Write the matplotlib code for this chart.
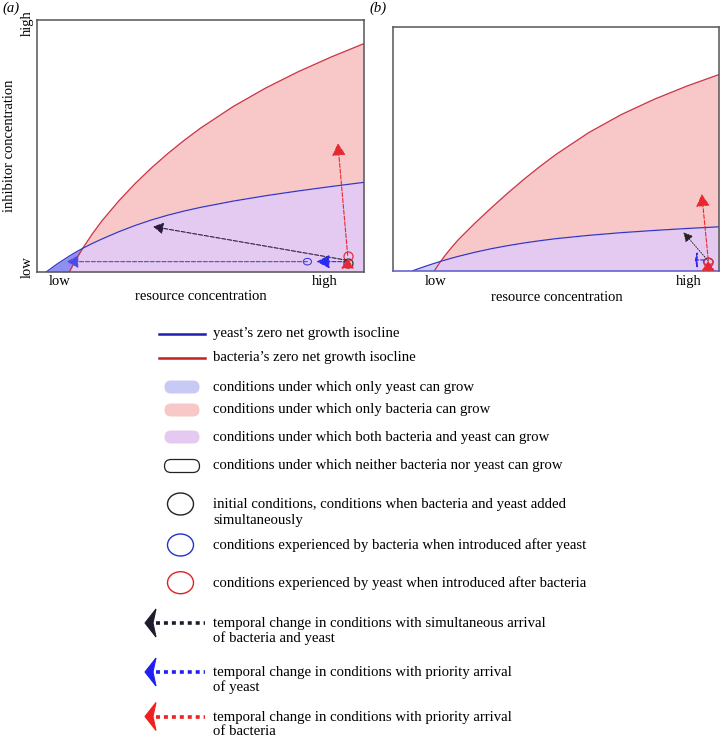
import numpy as np
import matplotlib
matplotlib.use('Agg')
import matplotlib.pyplot as plt
from matplotlib.patches import FancyBboxPatch, Ellipse, Polygon

plt.rcParams['font.family'] = ['Liberation Serif', 'DejaVu Serif']
plt.rcParams['font.size'] = 10.5

# zero net growth isoclines
res_a = [0.03, 0.06, 0.10, 0.12, 0.14, 0.17, 0.20, 0.25, 0.30, 0.35, 0.40,
         0.45, 0.50, 0.60, 0.70, 0.80, 0.90, 1.00]
yeast_a = [0.0, 0.0285, 0.0625, 0.078, 0.0924, 0.1122, 0.1302, 0.1582,
           0.1832, 0.2052, 0.2242, 0.2407, 0.2552, 0.2802, 0.3017, 0.3207,
           0.3382, 0.3547]
bact_a = [0.0, 0.0, 0.0, 0.048, 0.092, 0.1505, 0.203, 0.280, 0.349, 0.4115,
          0.4685, 0.521, 0.5695, 0.6555, 0.7295, 0.7945, 0.8525, 0.9055]

# panel (b)
res_b = [0.06, 0.10, 0.126, 0.143, 0.16, 0.18, 0.20, 0.25, 0.30, 0.35, 0.40,
         0.45, 0.50, 0.60, 0.70, 0.80, 0.90, 1.00]
yeast_b = [0.0, 0.0188, 0.0302, 0.0373, 0.0441, 0.0517, 0.0589, 0.0754,
           0.0899, 0.1024, 0.1134, 0.1229, 0.1314, 0.1449, 0.1559, 0.1649,
           0.1729, 0.1799]
bact_b = [0.0, 0.0, 0.0, 0.034, 0.0646, 0.0976, 0.128, 0.1945, 0.257, 0.317,
          0.374, 0.4275, 0.4775, 0.5665, 0.6405, 0.7025, 0.7565, 0.8045]

# condition markers (x, y)
start_a = (0.95, 0.035)
yeast_first_a = (0.827, 0.04)     # blue circle
bact_first_a = (0.95, 0.062)      # red circle
start_b = (0.966, 0.037)

# trajectories: start x, start y, end x, end y
sim_a = (0.95, 0.045, 0.356, 0.179)
yeast_pre_a = (0.95, 0.04, 0.855, 0.04)
yeast_a_traj = (0.827, 0.04, 0.092, 0.04)
bact_pre_a = (0.95, 0.03, 0.95, 0.052)
bact_a_traj = (0.95, 0.065, 0.92, 0.51)

sim_b = (0.966, 0.04, 0.89, 0.157)
yeast_b_traj = (0.955, 0.044, 0.925, 0.044)
bact_pre_b = (0.966, 0.022, 0.966, 0.04)
bact_b_traj = (0.966, 0.045, 0.946, 0.314)

legend_labels = [
    "yeast\u2019s zero net growth isocline",
    "bacteria\u2019s zero net growth isocline",
    "conditions under which only yeast can grow",
    "conditions under which only bacteria can grow",
    "conditions under which both bacteria and yeast can grow",
    "conditions under which neither bacteria nor yeast can grow",
    "initial conditions, conditions when bacteria and yeast added\nsimultaneously",
    "conditions experienced by bacteria when introduced after yeast",
    "conditions experienced by yeast when introduced after bacteria",
    "temporal change in conditions with simultaneous arrival\nof bacteria and yeast",
    "temporal change in conditions with priority arrival\nof yeast",
    "temporal change in conditions with priority arrival\nof bacteria",
]

PINK = '#f8c8c8'
PURPLE = '#e4caf0'
RED_LINE = '#cc3344'
BLUE_LINE = '#3535c8'


def draw_panel(ax, x, yeast, bact, yeast_only_color):
    x = np.array(x)
    yeast = np.array(yeast)
    bact = np.array(bact)
    low = np.minimum(yeast, bact)
    ax.fill_between(x, 0, low, color=PURPLE, lw=0)
    ax.fill_between(x, yeast, bact, where=bact >= yeast, interpolate=True,
                    color=PINK, lw=0)
    ax.fill_between(x, bact, yeast, where=yeast >= bact, interpolate=True,
                    color=yeast_only_color, lw=0)
    i0 = max(np.argmax(bact > 0) - 1, 0)
    ax.plot(x[i0:], bact[i0:], color=RED_LINE, lw=0.9)
    ax.plot(x, yeast, color=BLUE_LINE, lw=0.9)
    ax.set_xlim(0, 1)
    ax.set_ylim(0, 1)


def arrow(ax, seg, color, ls='--', lw=0.8, hl=0.6, hw=0.35):
    x0, y0, x1, y1 = seg
    ax.annotate('', xy=(x1, y1), xytext=(x0, y0),
                arrowprops=dict(arrowstyle=f'-|>,head_length={hl},head_width={hw}',
                                color=color, lw=lw, linestyle=ls,
                                shrinkA=0, shrinkB=0, mutation_scale=10))


fig = plt.figure(figsize=(7.21, 7.40), dpi=100)

# ---- panel (a)
ax1 = fig.add_axes([0.0509, 0.6328, 0.454, 0.3405])
draw_panel(ax1, res_a, yeast_a, bact_a, '#8f8ff2')
arrow(ax1, sim_a, '#2a1a3a', lw=0.8)
arrow(ax1, yeast_a_traj, '#4a4ae6', lw=0.8, hl=0.7, hw=0.38)
arrow(ax1, yeast_pre_a, '#2a2af0', lw=0.8, hl=0.8, hw=0.42)
arrow(ax1, bact_a_traj, '#e82830', lw=0.8, hl=0.75, hw=0.42)
arrow(ax1, bact_pre_a, '#e82830', lw=0.8, hl=0.6, hw=0.4)
ax1.plot(*start_a, 'o', ms=6.5, mfc='none', mec='#333333', mew=0.9)
ax1.plot(*bact_first_a, 'o', ms=6.5, mfc='none', mec='#e03040', mew=0.9)
ax1.add_patch(Ellipse(yeast_first_a, 0.025, 0.026, fill=False,
                      ec='#4040e0', lw=0.8))
for s in ax1.spines.values():
    s.set_color('#555555')
    s.set_linewidth(1.1)
ax1.set_xticks([0.071, 0.88], ['low', 'high'])
ax1.set_yticks([0.02, 0.985], ['low', 'high'], rotation=90, va='center')
ax1.tick_params(length=0, pad=2, labelsize=10.5)
ax1.set_xlabel('resource concentration', labelpad=2, fontsize=10.5)
ax1.set_ylabel('inhibitor concentration', fontsize=10.5, va='center')
ax1.yaxis.set_label_coords(-0.082, 0.5)

# ---- panel (b)
ax2 = fig.add_axes([0.5455, 0.6342, 0.4522, 0.3297])
draw_panel(ax2, res_b, yeast_b, bact_b, '#d2cdf4')
arrow(ax2, sim_b, '#222222', ls=':', lw=0.7, hl=0.55, hw=0.3)
arrow(ax2, yeast_b_traj, '#2a2af0', lw=0.8, hl=0.12, hw=0.5)
arrow(ax2, bact_b_traj, '#e82830', lw=0.8, hl=0.75, hw=0.42)
ax2.plot(*start_b, 'o', ms=6.5, mfc='none', mec='#e03040', mew=1.0)
ax2.add_patch(Ellipse(start_b, 0.03, 0.025, fill=False, ec='#4040e0', lw=0.8))
arrow(ax2, bact_pre_b, '#e82830', lw=0.8, hl=0.6, hw=0.4)
for name, s in ax2.spines.items():
    s.set_color('#555555')
    s.set_linewidth(1.1)
ax2.spines['bottom'].set_color('#5a5acc')
ax2.set_xticks([0.131, 0.905], ['low', 'high'])
ax2.set_yticks([])
ax2.tick_params(length=0, pad=3, labelsize=10.5)
ax2.set_xlabel('resource concentration', labelpad=2, fontsize=10.5)

fig.text(0.003, 0.989, '(a)', style='italic', fontsize=10.5, va='center')
fig.text(0.513, 0.989, '(b)', style='italic', fontsize=10.5, va='center')

# ---- key (drawn in pixel units)
lg = fig.add_axes([0, 0, 1, 1])
lg.set_xlim(0, 721)
lg.set_ylim(740, 0)
lg.axis('off')

tx = 213
rows_y = [334, 358, 387, 410, 437, 466, 512.5, 545, 582.7, 631, 680, 724.5]
sym_y = [334, 358, 387, 410, 437, 466, 504, 545, 582.7, 623, 672, 716.5]

lg.plot([159, 205], [sym_y[0]] * 2, color='#1f1fb0', lw=1.8)
lg.plot([159, 205], [sym_y[1]] * 2, color='#c42020', lw=1.8)
pill_colors = ['#c9c9f6', PINK, PURPLE, 'white']
for k, c in enumerate(pill_colors):
    y = sym_y[2 + k]
    ec = '#222222' if c == 'white' else 'none'
    lg.add_patch(FancyBboxPatch((164.5, y - 6.5), 35, 13,
                                boxstyle='round,pad=0,rounding_size=6.5',
                                fc=c, ec=ec, lw=0.9))
for k, c in enumerate(['#222222', '#2233cc', '#dd2222']):
    lg.add_patch(Ellipse((180.5, sym_y[6 + k]), 26, 22, fill=False, ec=c, lw=1.0))

for k, c in enumerate(['#1c1c2c', '#2020f0', '#ee2020']):
    y = sym_y[9 + k]
    lg.plot([156, 205], [y, y], color=c, lw=2.6, linestyle=(0, (1.1, 1.1)))
    lg.add_patch(Polygon([(145, y), (156, y - 14), (153, y), (156, y + 14)],
                         closed=True, fc=c, ec=c, lw=0.8))

for k, lab in enumerate(legend_labels):
    sp = 1.32 if k == 6 else 1.12
    lg.text(tx, rows_y[k], lab, va='center', ha='left', fontsize=10.6,
            linespacing=sp)

fig.savefig('out.png', dpi=100)
plt.close(fig)
